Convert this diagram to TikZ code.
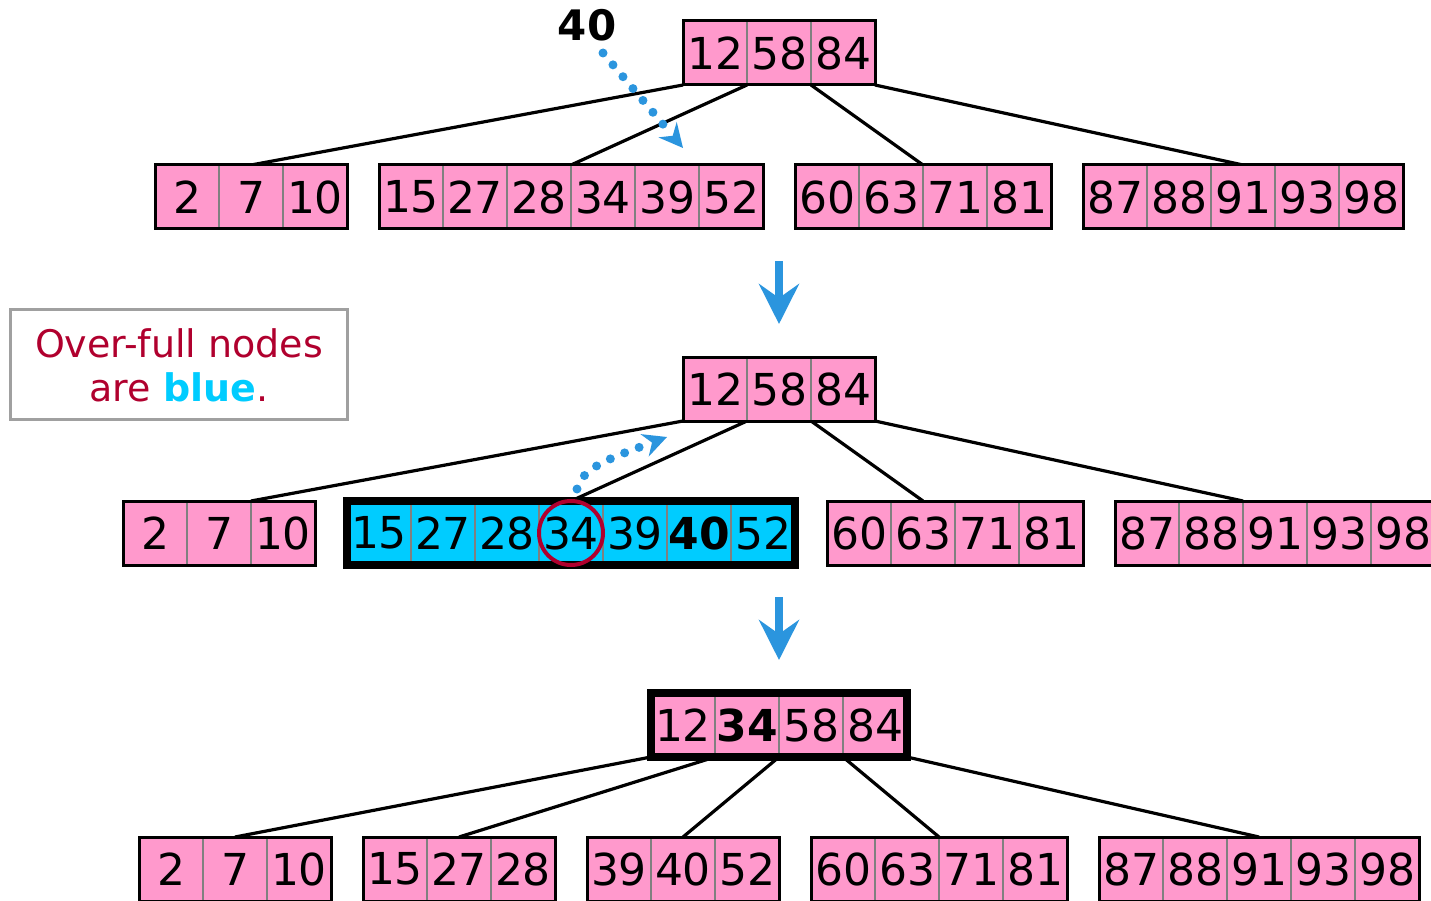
\documentclass[tikz,border=0pt]{standalone}
\usepackage{fontspec}
\setmainfont{DejaVu Sans}
\usetikzlibrary{arrows.meta,fit,backgrounds}
\definecolor{bpink}{HTML}{FF99CC}
\definecolor{bcyan}{HTML}{00CCFF}
\definecolor{bcrim}{HTML}{B0002E}
\definecolor{barrow}{HTML}{2B95DE}
\definecolor{bgray}{HTML}{808080}
\definecolor{lgray}{HTML}{A0A0A0}
\newcommand\btree[6]{%
  \foreach \v [count=\i] in {#6} {\node[#4] (#1-\i) at ({#2+64*\i-32},#3) {\v}; \xdef\btn{\i}}%
  \node[fit=(#1-1)(#1-\btn), #5] (#1) {};%
}
\tikzset{
  cellp/.style={draw=bgray, line width=2pt, fill=bpink, minimum width=64pt, minimum height=64pt, inner sep=0pt, outer sep=0pt, font=\fontsize{44}{44}\selectfont},
  cellc/.style={cellp, fill=bcyan},
  outer/.style={draw=black, line width=3pt, inner sep=0pt, outer sep=0pt},
  outerthick/.style={draw=black, line width=8pt, inner sep=0pt, outer sep=0pt},
  link/.style={draw=black, line width=3.2pt},
  bigarrow/.style={draw=barrow, line width=8pt, -{Stealth[length=40pt,width=40pt,inset=14pt]}},
  dotarrow/.style={draw=barrow, line width=9pt, line cap=round, dash pattern=on 0pt off 15.5pt, -{Stealth[length=24pt,width=24pt,inset=8pt,line width=0pt]}},
}
\begin{document}
\begin{tikzpicture}[x=1pt,y=-1pt]
\clip (0,0) rectangle (1431,901);
% row 1
\btree{ra}{683}{53}{cellp}{outer}{12,58,84}
\btree{a1}{155}{197}{cellp}{outer}{2,7,10}
\btree{a2}{379}{197}{cellp}{outer}{15,27,28,34,39,52}
\btree{a3}{795}{197}{cellp}{outer}{60,63,71,81}
\btree{a4}{1083}{197}{cellp}{outer}{87,88,91,93,98}
\begin{scope}[on background layer]
\draw[link] (ra-1.south west) -- (a1.north);
\draw[link] (ra-1.south east) -- (a2.north);
\draw[link] (ra-2.south east) -- (a3.north);
\draw[link] (ra-3.south east) -- (a4.north);
\end{scope}
\node[font=\fontsize{42}{42}\selectfont\bfseries] (k40) at (587,25) {40};
\coordinate (d1s) at (603,53);
\coordinate (d1e) at (683,148);
\draw[dotarrow] (d1s) -- (d1e);
% arrow 1
\coordinate (b1s) at (779,261);
\coordinate (b1e) at (779,324);
\draw[bigarrow] (b1s) -- (b1e);
% legend
\node[draw=lgray, line width=3pt, minimum width=337pt, minimum height=110pt, inner sep=0pt] (leg) at (178.5,364) {};
\node[text=bcrim, font=\fontsize{38}{44}\selectfont, align=center] (legt) at (179,365) {Over-full nodes\\are {\bfseries\color{bcyan}blue}.};
% row 2
\btree{rb}{683}{389}{cellp}{outer}{12,58,84}
\btree{b1}{123}{533}{cellp}{outer}{2,7,10}
\btree{b2}{347}{533}{cellc}{outerthick}{15,27,28,34,39,\textbf{40},52}
\btree{b3}{827}{533}{cellp}{outer}{60,63,71,81}
\btree{b4}{1115}{533}{cellp}{outer}{87,88,91,93,98}
\begin{scope}[on background layer]
\draw[link] (rb-1.south west) -- (b1-2.north east);
\draw[link] (rb-1.south east) -- (b2-4.north);
\draw[link] (rb-2.south east) -- (b3-2.north);
\draw[link] (rb-3.south east) -- (b4-2.north east);
\end{scope}
\node[draw=bcrim, line width=4pt, circle, minimum size=64pt, inner sep=0pt] (circ) at (b2-4) {};
\coordinate (d2s) at (577,489);
\coordinate (d2e) at (667,437);
\draw[dotarrow] (d2s) .. controls (583,468) and (605,460) .. (d2e);
% arrow 2
\coordinate (b2s) at (779,597);
\coordinate (b2e) at (779,660);
\draw[bigarrow] (b2s) -- (b2e);
% row 3
\btree{rc}{651}{725}{cellp}{outerthick}{12,\textbf{34},58,84}
\btree{c1}{139}{869}{cellp}{outer}{2,7,10}
\btree{c2}{363}{869}{cellp}{outer}{15,27,28}
\btree{c3}{587}{869}{cellp}{outer}{39,40,52}
\btree{c4}{811}{869}{cellp}{outer}{60,63,71,81}
\btree{c5}{1099}{869}{cellp}{outer}{87,88,91,93,98}
\begin{scope}[on background layer]
\draw[link] (rc-1.south west) -- (c1.north);
\draw[link] (rc-1.south east) -- (c2.north);
\draw[link] (rc-2.south east) -- (c3.north);
\draw[link] (rc-3.south east) -- (c4.north);
\draw[link] (rc-4.south east) -- (c5.north);
\end{scope}
\end{tikzpicture}
\end{document}
